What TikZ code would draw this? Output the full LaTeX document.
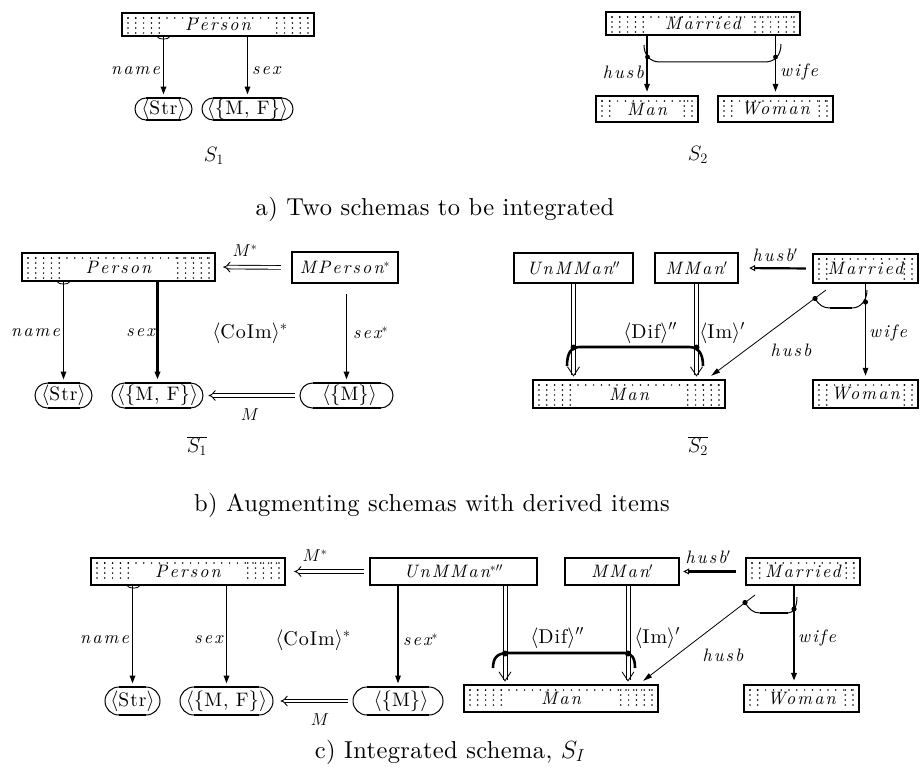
\documentclass[tikz,border=0pt]{standalone}
\usepackage{fontspec}
\newfontfamily\itls{lmroman10-italic.otf}[LetterSpace=12]
\newfontfamily\rmls{lmroman10-regular.otf}[LetterSpace=5]
\newfontfamily\caprm{lmroman10-regular.otf}[LetterSpace=1.5]
\usetikzlibrary{arrows.meta,calc}

\tikzset{
  entbox/.style={draw, line width=2.4pt, inner sep=0pt, font=\fontsize{18}{21}\selectfont\itls},
  valbox/.style={draw, line width=1pt, inner sep=0pt, font=\fontsize{19.5}{22}\selectfont\rmls},
  attr/.style={line width=1.6pt, -{Triangle[length=8pt,width=5.5pt]}, shorten >=3pt},
  impl/.style={double, double distance=2.8pt, line width=0.9pt, -{Implies}},
  dline/.style={line width=0.8pt},
  vtip/.style={line width=0.8pt},
  hbarrow/.style={line width=0.8pt, -{Triangle[length=9pt,width=5pt]}},
  primarrow/.style={line width=2.2pt, -{Triangle[open,length=6pt,width=6pt,line width=1pt]}},
  ilbl/.style={inner sep=1pt, font=\fontsize{18}{21}\selectfont\itls},
  rlbl/.style={inner sep=1pt, font=\fontsize{20}{23}\selectfont\rmls},
  mlbl/.style={inner sep=1pt, font=\fontsize{18}{22}\selectfont},
  captxt/.style={inner sep=0pt, font=\fontsize{24.5}{28}\selectfont\caprm},
  slbl/.style={inner sep=0pt, font=\fontsize{20}{24}\selectfont},
  cons/.style={line width=1pt},
  consthick/.style={line width=2.6pt},
}

% entity box with dotted regions
\newcommand\mkent[8]{%
  \pgfmathsetmacro\ecx{(#2+#4)/2}%
  \pgfmathsetmacro\ecy{(#3+#5)/2}%
  \pgfmathsetmacro\ew{#4-#2}%
  \pgfmathsetmacro\eh{#5-#3}%
  \pgfmathsetmacro\rya{#3+5}\pgfmathsetmacro\ryb{#3+10}\pgfmathsetmacro\ryz{#5-3}%
  \pgfmathsetmacro\txa{#2+6}\pgfmathsetmacro\txb{#2+13.8}\pgfmathsetmacro\txz{#4-5}%
  \pgfmathsetmacro\lxz{#2+#6}%
  \pgfmathsetmacro\rxa{#4-6}\pgfmathsetmacro\rxb{#4-13.8}\pgfmathsetmacro\rxz{#4-#7}%
  \foreach \xx in {\txa,\txb,...,\txz} {\fill (\xx,\rya) circle[radius=0.85pt];}
  \foreach \xx in {\txa,\txb,...,\lxz} {\foreach \yy in {\rya,\ryb,...,\ryz} {\fill (\xx,\yy) circle[radius=0.85pt];}}
  \foreach \xx in {\rxa,\rxb,...,\rxz} {\foreach \yy in {\rya,\ryb,...,\ryz} {\fill (\xx,\yy) circle[radius=0.85pt];}}
  \node[entbox, minimum width=\ew pt, minimum height=\eh pt] (#1) at (\ecx,\ecy) {#8};
}
% plain class box
\newcommand\mkcls[6]{%
  \pgfmathsetmacro\ecx{(#2+#4)/2}%
  \pgfmathsetmacro\ecy{(#3+#5)/2}%
  \pgfmathsetmacro\ew{#4-#2}%
  \pgfmathsetmacro\eh{#5-#3}%
  \node[entbox, minimum width=\ew pt, minimum height=\eh pt] (#1) at (\ecx,\ecy) {#6};
}
% value node
\newcommand\mkval[6]{%
  \pgfmathsetmacro\vcx{(#2+#4)/2}\pgfmathsetmacro\vcy{(#3+#5)/2}%
  \pgfmathsetmacro\vw{#4-#2}\pgfmathsetmacro\vh{#5-#3}\pgfmathsetmacro\vr{(#5-#3)/2}%
  \pgfmathsetmacro\vxa{#2+\vr}\pgfmathsetmacro\vxb{#4-\vr}%
  \node[valbox, minimum width=\vw pt, minimum height=\vh pt, rounded corners=\vr pt] (#1) at (\vcx,\vcy) {#6};
  \draw[line width=2.6pt] (\vxa,#3) -- (\vxb,#3) (\vxa,#5) -- (\vxb,#5);
}
% derived double link: #1 from node, #2 to node, #3 x offset from #1.south
\newcommand\dlink[3]{%
  \draw[dline] ($(#1.south)+(#3-2,0)$) -- ($(#1.south |- #2.north)+(#3-2,-4)$);
  \draw[dline] ($(#1.south)+(#3+2,0)$) -- ($(#1.south |- #2.north)+(#3+2,-4)$);
  \draw[vtip] ($(#1.south |- #2.north)+(#3-6,-12)$) -- ($(#1.south |- #2.north)+(#3,-3)$) -- ($(#1.south |- #2.north)+(#3+6,-12)$);
}

\begin{document}
\begin{tikzpicture}[x=1pt,y=-1pt]
\useasboundingbox (0,0) rectangle (921,776);

%%%%%%%%%%%%%%%% a) left
\mkent{Pa}{122}{13}{314}{36}{45}{45}{Person}
\mkval{Stra}{135}{98}{192}{120}{$\langle$Str$\rangle$}
\mkval{MFa}{202}{98}{293}{120}{$\langle\{$M, F$\}\rangle$}
\draw[attr] (Stra.north |- Pa.south) -- (Stra.north);
\draw[attr] (MFa.north |- Pa.south) -- (MFa.north);
\draw[line width=0.8pt] (157,36.5) .. controls (158.5,40) and (168.5,40) .. (170,36.5);
\node[ilbl, anchor=east] (la1) at (161,71) {name};
\node[ilbl, anchor=west] (la2) at (251,71) {sex};
\node[slbl] (s1) at (214,156) {$S_1$};

%%%%%%%%%%%%%%%% a) right
\mkent{Ma}{606}{12}{800}{35}{45}{50}{Married}
\mkent{Mana}{596}{96}{698}{122}{14}{16}{Man}
\mkent{Woa}{718}{96}{833}{122}{14}{14}{Woman}
\draw[attr] (Mana.north |- Ma.south) -- (Mana.north);
\draw[attr] (Woa.north |- Ma.south) -- (Woa.north);
\draw[cons] (644,45) .. controls (644,55) and (650,62) .. (660,62) -- (765,62) .. controls (775,62) and (781,55) .. (781,44);
\fill (647.5,57) circle[radius=2.4pt];
\fill (775.5,57) circle[radius=2.4pt];
\node[ilbl, anchor=east] (la3) at (645,72) {husb};
\node[ilbl, anchor=west] (la4) at (779,72) {wife};
\node[slbl] (s2) at (698,155) {$S_2$};

\node[captxt, anchor=base] (capa) at (435,215) {a) Two schemas to be integrated};

%%%%%%%%%%%%%%%% b) left
\mkent{Pb}{22}{253}{215}{281}{43}{42}{Person}
\mkcls{MPb}{292}{252}{398}{283}{MPerson$^*$}
\mkval{Strb}{35}{383}{92}{408}{$\langle$Str$\rangle$}
\mkval{MFb}{112}{383}{203}{408}{$\langle\{$M, F$\}\rangle$}
\mkval{Mb}{300}{383}{393}{408}{\hspace*{6pt}$\langle\{$M$\}\rangle$}
\draw[impl, shorten <=10pt, shorten >=7pt] (MPb.west) -- (Pb.east);
\draw[impl, shorten <=5pt, shorten >=5pt] (Mb.west) -- (MFb.east);
\draw[attr] (Strb.north |- Pb.south) -- (Strb.north);
\draw[attr, line width=2.4pt] (MFb.north |- Pb.south) -- (MFb.north);
\draw[attr, shorten <=10pt] (Mb.north |- MPb.south) -- (Mb.north);
\draw[line width=0.8pt] (57,281.5) .. controls (58.5,285) and (68.5,285) .. (70,281.5);
\node[mlbl] (lb0) at (245,251) {$M^*$};
\node[ilbl, anchor=east] (lb1) at (61,333) {name};
\node[ilbl, anchor=east] (lb2) at (156,333) {sex};
\node[rlbl] (lb3) at (250,333) {$\langle$CoIm$\rangle^*$};
\node[ilbl, anchor=west] (lb4) at (352,333) {sex$^*$};
\node[mlbl] (lb5) at (250,415) {$M$};
\node[slbl] (s1b) at (197,446) {$\overline{S_1}$};

%%%%%%%%%%%%%%%% b) right
\mkcls{UMb}{514}{253}{633}{283}{UnMMan$''$}
\mkcls{MMb}{655}{253}{738}{283}{MMan$'$}
\mkent{Mab}{813}{254}{918}{283}{8}{8}{Married}
\mkent{Manb}{533}{380}{725}{408}{43}{43}{Man}
\mkent{Wob}{813}{380}{918}{408}{14}{8}{Woman}
\draw[primarrow, shorten <=6pt, shorten >=10pt] (Mab.west) -- (MMb.east);
\node[ilbl] (lb6) at (775,255) {husb$'$};
% derived double links
\dlink{UMb}{Manb}{0}
\dlink{MMb}{Manb}{0}
\draw[consthick] (567,366) .. controls (567,353) and (571,347) .. (580,347) -- (689,347) .. controls (698,347) and (703,353) .. (703,366);
\fill (573.5,347.5) circle[radius=3pt];
\fill (696.5,347.5) circle[radius=3pt];
\node[rlbl] (lb7) at (650,333) {$\langle$Dif$\rangle''$};
\node[rlbl] (lb8) at (722,333) {$\langle$Im$\rangle'$};
% husb / wife
\coordinate (hbs) at (826,290);
\draw[hbarrow] (hbs) -- ([xshift=-15pt,yshift=3pt]Manb.north east);
\draw[attr] (Wob.north |- Mab.south) -- (Wob.north);
\draw[cons] (815,298.5) .. controls (819,305) and (823,308) .. (830,308);
\draw[line width=2.2pt] (830,308) -- (852,308);
\draw[cons] (852,308) .. controls (860,308) and (867,301) .. (867,290);
\fill (815,298.5) circle[radius=2.6pt];
\fill (865.5,302) circle[radius=2.6pt];
\node[ilbl] (lb9) at (791,350) {husb};
\node[ilbl, anchor=west] (lb10) at (868,333) {wife};
\node[slbl] (s2b) at (698,446) {$\overline{S_2}$};

\node[captxt, anchor=base] (capb) at (432,511) {b) Augmenting schemas with derived items};

%%%%%%%%%%%%%%%% c) left
\mkent{Pc}{91}{558}{285}{585}{43}{42}{Person}
\mkcls{UMc}{370}{558}{537}{585}{UnMMan$^{*\prime\prime}$}
\mkval{Strc}{105}{687}{160}{715}{$\langle$Str$\rangle$}
\mkval{MFc}{180}{687}{273}{715}{$\langle\{$M, F$\}\rangle$}
\mkval{Mc}{353}{687}{443}{715}{\hspace*{6pt}$\langle\{$M$\}\rangle$}
\draw[impl, shorten <=5pt, shorten >=8pt] (UMc.west) -- (Pc.east);
\draw[impl, shorten <=5pt, shorten >=7pt] (Mc.west) -- (MFc.east);
\draw[attr] (Strc.north |- Pc.south) -- (Strc.north);
\draw[attr] (MFc.north |- Pc.south) -- (MFc.north);
\draw[attr] (Mc.north |- UMc.south) -- (Mc.north);
\draw[line width=0.8pt] (127,585.5) .. controls (128.5,589) and (138.5,589) .. (140,585.5);
\node[mlbl] (lc0) at (315,556) {$M^*$};
\node[ilbl, anchor=east] (lc1) at (130,640) {name};
\node[ilbl, anchor=east] (lc2) at (224,640) {sex};
\node[rlbl] (lc3) at (313,640) {$\langle$CoIm$\rangle^*$};
\node[ilbl, anchor=west] (lc4) at (402,640) {sex$^*$};
\node[mlbl] (lc5) at (320,720) {$M$};

%%%%%%%%%%%%%%%% c) right
\mkcls{MMc}{565}{558}{679}{585}{MMan$'$}
\mkent{Mac}{746}{558}{860}{585}{10}{10}{Married}
\mkent{Manc}{464}{685}{658}{712}{44}{43}{Man}
\mkent{Woc}{744}{685}{859}{712}{12}{12}{Woman}
\draw[primarrow, shorten <=9pt, shorten >=3pt] (Mac.west) -- (MMc.east);
\node[ilbl] (lc6) at (708,557) {husb$'$};
\dlink{UMc}{Manc}{51.5}
\dlink{MMc}{Manc}{6}
\draw[consthick] (493,668) .. controls (493,658) and (497,653) .. (508,653) -- (624,653) .. controls (632,653) and (635,658) .. (635,668);
\fill (505,653.5) circle[radius=3pt];
\fill (628,653.5) circle[radius=3pt];
\node[rlbl] (lc7) at (557,638) {$\langle$Dif$\rangle''$};
\node[rlbl] (lc8) at (657,638) {$\langle$Im$\rangle'$};
\coordinate (hcs) at (755,595);
\draw[hbarrow] (hcs) -- ([xshift=-16pt,yshift=3pt]Manc.north east);
\draw[attr, line width=2.2pt] ($(Woc.north |- Mac.south)+(-7.5,0)$) -- ($(Woc.north)+(-7.5,0)$);
\draw[cons] (745,602.5) .. controls (749,609) and (753,613) .. (760,613);
\draw[line width=1.6pt] (760,613) -- (788,613);
\draw[cons] (788,613) .. controls (794,613) and (797,606) .. (797,597);
\fill (745,602.5) circle[radius=2.6pt];
\fill (794,609) circle[radius=2.6pt];
\node[ilbl] (lc9) at (723,655) {husb};
\node[ilbl, anchor=west] (lc10) at (797,638) {wife};

\node[captxt, anchor=base] (capc) at (450,758) {c) Integrated schema, $S_I$};
\end{tikzpicture}
\end{document}
